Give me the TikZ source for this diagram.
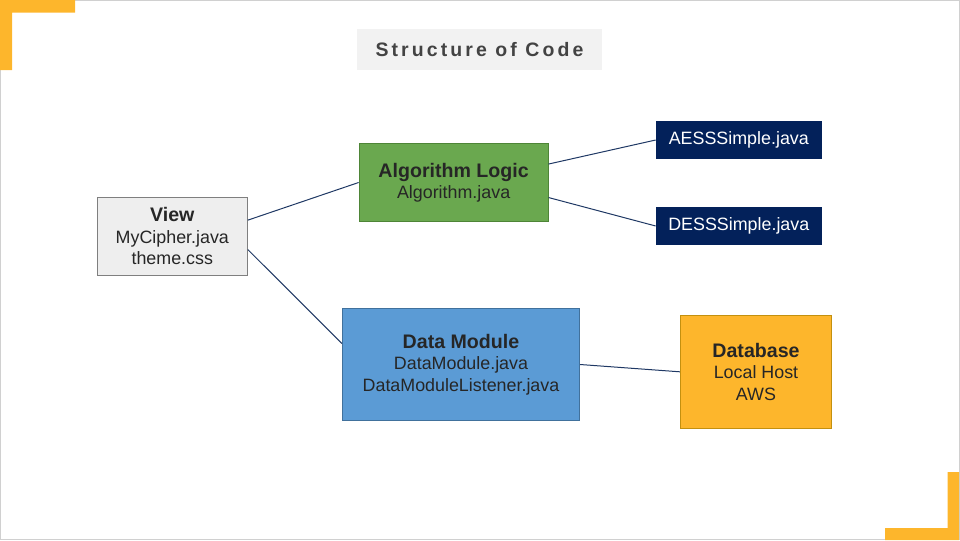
\documentclass[tikz,border=0pt]{standalone}
\usepackage{fontspec}
\setmainfont{Liberation Sans}
\newfontfamily\titlefont[LetterSpace=16]{Liberation Sans}
\usepackage{tikz}

\definecolor{slideedge}{HTML}{D0D0D0}
\definecolor{corner}{HTML}{FDB62C}
\definecolor{titlefill}{HTML}{F2F2F2}
\definecolor{titletext}{HTML}{434343}
\definecolor{inktext}{HTML}{262626}
\definecolor{viewfill}{HTML}{EEEEEE}
\definecolor{viewedge}{HTML}{7F7F7F}
\definecolor{algofill}{HTML}{6AA84F}
\definecolor{algoedge}{HTML}{4E8537}
\definecolor{navy}{HTML}{03215A}
\definecolor{dmfill}{HTML}{5B9BD5}
\definecolor{dmedge}{HTML}{41719C}
\definecolor{dbfill}{HTML}{FDB62C}
\definecolor{dbedge}{HTML}{C3900F}
\definecolor{linkblue}{HTML}{1F3864}

\newcommand\boxhead{\fontsize{14.7}{16.1}\selectfont\bfseries}

\begin{document}
\begin{tikzpicture}[x=0.75pt,y=-0.75pt,
  box/.style={draw, line width=0.75pt, align=center, inner sep=0pt, text=inktext,
    font=\fontsize{13.4}{16.1}\selectfont},
  file/.style={fill=navy, text=white, inner sep=0pt, minimum width=124.3pt,
    minimum height=28.3pt, font=\fontsize{13.4}{16.1}\selectfont},
  link/.style={draw=linkblue, line width=0.75pt}]
\useasboundingbox (0,0) rectangle (960,540);
\draw [slideedge, line width=0.75pt] (0.5,0.5) rectangle (959.5,539.5);
\fill [corner] (0,0) -- (75,0) -- (75,12.5) -- (12,12.5) -- (12,70) -- (0,70) -- cycle;
\fill [corner] (959,472) -- (959,540) -- (885,540) -- (885,528) -- (947.5,528) -- (947.5,472) -- cycle;
\node [fill=titlefill, text=titletext, minimum width=183.75pt, minimum height=30.75pt,
  font=\titlefont\fontsize{14.6}{17}\selectfont\bfseries] (title) at (479.5,49.5) {Structure of Code};
\node [box, fill=viewfill, draw=viewedge, minimum width=112.5pt, minimum height=58.3pt] (view) at (172.3,236.2)
  {{\boxhead View}\\MyCipher.java\\theme.css};
\node [box, fill=algofill, draw=algoedge, minimum width=141.75pt, minimum height=58.8pt] (algo) at (453.6,182.5)
  {{\boxhead Algorithm Logic}\\Algorithm.java};
\node [file] (aes) at (738.8,140) {AESSSimple.java};
\node [file, below of=aes, node distance=64.5pt] (des) {DESSSimple.java};
\node [box, fill=dmfill, draw=dmedge, minimum width=178pt, minimum height=84.3pt] (dm) at (461,364.5)
  {{\boxhead Data Module}\\DataModule.java\\DataModuleListener.java};
\node [box, fill=dbfill, draw=dbedge, minimum width=113.5pt, minimum height=84.75pt] (db) at (756,371.8)
  {{\boxhead Database}\\Local Host\\AWS};
\draw [link] (view.12) -- (algo.west);
\draw [link] (view.-10) -- (dm.170);
\draw [link] (algo.11.5) -- (aes.west);
\draw [link] (algo.-9) -- (des.west);
\draw [link] (dm.east) -- (db.west);
\end{tikzpicture}
\end{document}
